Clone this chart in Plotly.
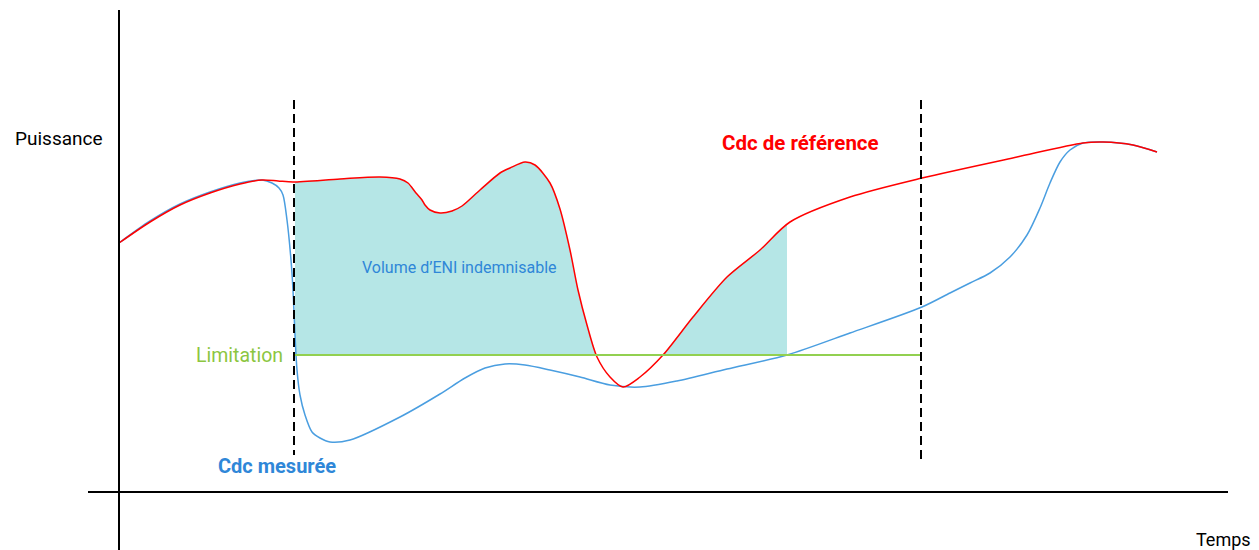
import plotly.graph_objects as go
import numpy as np

# Reference load curve (Cdc de référence): time, power
ref_t = [0, 31, 61, 91, 121, 143, 159, 174, 221, 261, 281, 289, 297, 303, 306, 311, 321, 333, 343, 361,
         381, 391, 406, 416, 431, 441, 451, 459, 468, 478, 491, 504, 521, 544, 574, 608, 641, 671, 731, 803,
         898, 964, 984, 1014, 1038]
ref_p = [249, 270, 287, 299, 308, 312, 311, 310, 313, 315, 313, 309, 299, 292, 287, 282, 279, 281, 286, 302,
         319, 324, 330, 327, 309, 283, 242, 202, 167, 135, 115, 105, 115, 137, 175, 215, 242, 270, 295, 314,
         335, 349, 350, 347, 340]

# Measured load curve (Cdc mesurée)
mes_t = [0, 31, 61, 91, 121, 143, 153, 160, 164, 168, 172, 174, 176, 178, 181, 186, 193, 201, 211, 231,
         281, 321, 346, 366, 386, 406, 431, 461, 491, 521, 558, 608, 668, 731, 803, 831, 851, 871, 891, 908,
         921, 931, 941, 951, 964, 984, 1014, 1038]
mes_p = [249, 271, 288, 300, 309, 312, 309, 304, 297, 272, 232, 202, 157, 122, 97, 77, 60, 54, 50, 52,
         75, 98, 114, 124, 128, 127, 122, 115, 107, 105, 111, 123, 137, 159, 185, 199, 209, 219, 235, 257,
         284, 309, 330, 342, 349, 350, 347, 340]

# Limitation level and time window
limit_level = 137
limit_start = 176
limit_end = 802
# Indemnifiable volume windows (where reference > limitation)
fill_windows = [(176, 477), (544, 668)]

RED = "#ff0000"
BLUE_LINE = "#4a9ee0"
BLUE_TEXT = "#2f87d8"
GREEN = "#92d050"
FILL = "#b5e6e6"

fig = go.Figure()

rt = np.array(ref_t, dtype=float)
rp = np.array(ref_p, dtype=float)
for (a, b) in fill_windows:
    mask = (rt > a) & (rt < b)
    ux = [a] + list(rt[mask]) + [b]
    uy = [np.interp(a, rt, rp)] + list(rp[mask]) + [np.interp(b, rt, rp)]
    fig.add_trace(go.Scatter(x=[a, b], y=[limit_level, limit_level], mode="lines",
                             line=dict(width=0, color=FILL), hoverinfo="skip", showlegend=False))
    fig.add_trace(go.Scatter(x=ux, y=uy, mode="lines", line=dict(width=0, color=FILL, shape="spline", smoothing=0.8),
                             fill="tonexty", fillcolor=FILL, hoverinfo="skip", showlegend=False))

fig.add_trace(go.Scatter(x=mes_t, y=mes_p, mode="lines",
                         line=dict(color=BLUE_LINE, width=1.5, shape="spline", smoothing=0.8),
                         showlegend=False))
fig.add_trace(go.Scatter(x=ref_t, y=ref_p, mode="lines",
                         line=dict(color=RED, width=1.5, shape="spline", smoothing=0.8),
                         showlegend=False))
fig.add_trace(go.Scatter(x=[limit_start, limit_end], y=[limit_level, limit_level], mode="lines",
                         line=dict(color=GREEN, width=2), showlegend=False))

# axes
fig.add_shape(type="line", x0=0, x1=0, y0=-58, y1=482, line=dict(color="black", width=2))
fig.add_shape(type="line", x0=-31, x1=1109, y0=0, y1=0, line=dict(color="black", width=2))
# dashed window markers
fig.add_shape(type="line", x0=175, x1=175, y0=392, y1=37, line=dict(color="black", width=2, dash="9px,5px"))
fig.add_shape(type="line", x0=802, x1=802, y0=392, y1=32, line=dict(color="black", width=2, dash="9px,5px"))

font = "Roboto, Arial, sans-serif"
anns = [
    dict(x=-60, y=354, text="Puissance", font=dict(size=19, color="black", family=font)),
    dict(x=1104, y=-47, text="Temps", font=dict(size=18, color="black", family=font)),
    dict(x=681, y=349, text="<b>Cdc de référence</b>", font=dict(size=20.5, color=RED, family=font)),
    dict(x=158, y=26, text="<b>Cdc mesurée</b>", font=dict(size=20, color=BLUE_TEXT, family=font)),
    dict(x=340, y=225, text="Volume d’ENI indemnisable", font=dict(size=16, color=BLUE_TEXT, family=font)),
    dict(x=166, y=137, text="Limitation", xanchor="right", font=dict(size=19.5, color="#8cc63f", family=font)),
]
for a in anns:
    a.setdefault("xanchor", "center")
    fig.add_annotation(xref="x", yref="y", showarrow=False, yanchor="middle", **a)

# page body has an 8px margin: the figure covers page pixels 8..1259 x 8..550
fig.update_layout(
    width=1251, height=542, margin=dict(l=0, r=0, t=0, b=0),
    plot_bgcolor="white", paper_bgcolor="white",
    xaxis=dict(range=[-111, 1140], visible=False, fixedrange=True),
    yaxis=dict(range=[-58, 484], visible=False, fixedrange=True),
    showlegend=False,
)
fig.write_html("out.html")
